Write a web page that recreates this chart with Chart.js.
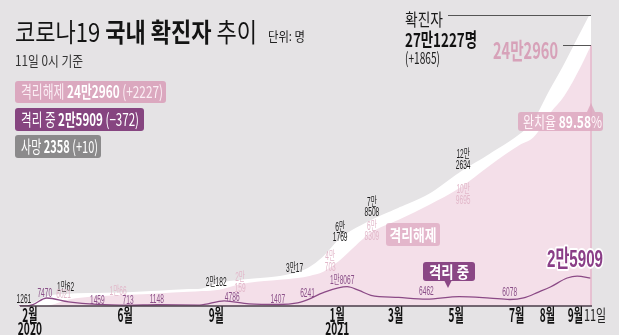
<!DOCTYPE html>
<html><head><meta charset="utf-8">
<script src="https://cdn.jsdelivr.net/npm/chart.js@4.4.1/dist/chart.umd.min.js"></script>
<style>html,body{margin:0;padding:0;background:#e5e3e5;}canvas{display:block;}</style>
</head><body>
<canvas id="c" width="619" height="335"></canvas>
<script>
// ---------- DATA ----------
const startDate = '2020-02-12';
const endDate = '2021-09-11';

const cumDates = ['2020-02-12','2020-02-20','2020-02-26','2020-03-11','2020-04-02','2020-05-01','2020-05-21','2020-06-01','2020-07-01','2020-08-01','2020-08-15','2020-09-01','2020-09-22','2020-10-01','2020-11-01','2020-11-19','2020-12-01','2020-12-15','2020-12-29','2021-01-01','2021-02-01','2021-03-01','2021-04-01','2021-05-01','2021-06-01','2021-07-01','2021-07-15','2021-08-01','2021-08-15','2021-09-01','2021-09-11'];
const confirmed = [28,104,1261,7755,10062,10774,11142,11503,12850,14336,15039,20182,22893,23812,26635,30017,34652,44364,58725,61769,78508,90029,103088,122634,140340,158549,170296,199787,222872,253445,271227];
const released  = [7,16,24,288,6021,9072,10066,10422,11684,13233,13901,15198,20159,21590,24357,26200,28065,31814,40703,42953,68309,80424,94353,109695,130981,150025,157248,179980,195683,223653,242960];

const isoDates = ['2020-02-12','2020-02-20','2020-02-26','2020-03-11','2020-04-02','2020-05-01','2020-06-01','2020-07-01','2020-08-12','2020-09-06','2020-10-01','2020-10-31','2020-11-19','2020-11-30','2020-12-15','2021-01-08','2021-01-20','2021-02-01','2021-03-01','2021-03-29','2021-05-01','2021-06-01','2021-06-21','2021-07-05','2021-07-20','2021-08-01','2021-08-18','2021-08-28','2021-09-11'];
const isolation = [21,88,1200,7470,3900,1459,713,1148,900,4786,1900,1407,3000,6241,12500,18067,14500,10000,8000,6462,8800,7400,6078,7500,13000,17700,26100,27900,25909];

const tickDates  = ['2020-02-26','2020-06-01','2020-09-01','2021-01-01','2021-03-01','2021-05-01','2021-07-01','2021-08-01'];
const tickLabels = [['2월','2020'],['6월'],['9월'],['1월','2021'],['3월'],['5월'],['7월'],['8월']];
const endLabel = ['9월','11일'];

const confirmedDelta = 1865;
const releasedDelta = 2227;
const isolationDelta = -372;
const deaths = 2358;
const deathsDelta = 10;
const recoveryRate = 89.58;

// ---------- helpers ----------
function day(s){const [y,m,d]=s.split('-').map(Number);return (Date.UTC(y,m-1,d)-Date.UTC(2020,1,12))/864e5;}
function ko(n){const a=Math.abs(n);const man=Math.floor(a/10000), r=a%10000;return man? man+'만'+(r? r:''):String(r);}
function koParts(n){const man=Math.floor(n/10000), r=n%10000;return [man+'만', String(r)];}
function signed(n){return (n>=0?'+':'−')+Math.abs(n);}
const KR = "'Noto Sans CJK KR','Liberation Sans',sans-serif";
const NUM = "'Liberation Sans','Noto Sans CJK KR',sans-serif";

function txt(ctx, parts, x, y, o){
  const size=o.size, fam=o.family||KR;
  const widths=parts.map(p=>{ctx.font=`${p[1]} ${size}px ${fam}`;return ctx.measureText(p[0]).width;});
  const nat=widths.reduce((a,b)=>a+b,0);
  const sx=o.width? o.width/nat : (o.sx||1);
  const total=nat*sx;
  let cx=o.align==='center'? x-total/2 : (o.align==='right'? x-total : x);
  ctx.textBaseline='middle'; ctx.textAlign='left';
  parts.forEach((p,i)=>{
    ctx.font=`${p[1]} ${size}px ${fam}`;
    ctx.save(); ctx.translate(cx,y); ctx.scale(sx,1);
    if(o.stroke){ctx.lineJoin='round';ctx.lineWidth=o.stroke;ctx.strokeStyle=o.strokeColor||'#fff';ctx.strokeText(p[0],0,0);}
    ctx.fillStyle=p[2]; ctx.fillText(p[0],0,0); ctx.restore();
    cx+=widths[i]*sx;
  });
  return total;
}
function rr(ctx,x,y,w,h,r,fill){ctx.beginPath();ctx.moveTo(x+r,y);ctx.lineTo(x+w-r,y);ctx.quadraticCurveTo(x+w,y,x+w,y+r);ctx.lineTo(x+w,y+h-r);ctx.quadraticCurveTo(x+w,y+h,x+w-r,y+h);ctx.lineTo(x+r,y+h);ctx.quadraticCurveTo(x,y+h,x,y+h-r);ctx.lineTo(x,y+r);ctx.quadraticCurveTo(x,y,x+r,y);ctx.closePath();ctx.fillStyle=fill;ctx.fill();}

const C_BLACK='#1b1b1b', C_PURPLE='#8a4f88', C_PINKTXT='#e2b8ca';
const seriesOf={c:[cumDates,confirmed,C_BLACK], r:[cumDates,released,C_PINKTXT], i:[isoDates,isolation,C_PURPLE]};
// point labels: series, date, pixel offset, two-line?
const pointLabels=[
  ['c','2020-02-26',-9,-5,false],
  ['i','2020-03-11',-2,-4,false],
  ['c','2020-04-02',-3,-8,false],
  ['r','2020-04-02',-5,-5,false],
  ['i','2020-05-01',0,-4,false],
  ['r','2020-05-21',1,-4,false],
  ['i','2020-06-01',0,-5,false],
  ['i','2020-07-01',-1,-5,false],
  ['c','2020-09-01',-3,-2,false],
  ['r','2020-09-22',0,-1,true],
  ['i','2020-09-06',8,-3,false],
  ['i','2020-10-31',-1,-5,false],
  ['c','2020-11-19',-3,-5,false],
  ['i','2020-11-30',-1,-6,false],
  ['r','2020-12-29',-7,0,true],
  ['i','2021-01-08',-5,-6,false],
  ['c','2021-01-01',0,-7,true],
  ['c','2021-02-01',1,-14,true],
  ['r','2021-02-01',1,-1,true],
  ['c','2021-05-01',4,-14,true],
  ['r','2021-05-01',4,7,true],
  ['i','2021-03-29',0,-7,false],
  ['i','2021-06-21',0,-7,false]
];

const overlay={
  id:'overlay',
  afterDatasetsDraw(chart){
    const {ctx, chartArea:a, scales:{x,y}}=chart;
    const xe=x.getPixelForValue(day(endDate));
    const yC=y.getPixelForValue(confirmed[confirmed.length-1]);
    const yR=y.getPixelForValue(released[released.length-1]);
    ctx.save();
    // right edge line
    ctx.strokeStyle='#e4b6ca';ctx.lineWidth=1.5;
    ctx.beginPath();ctx.moveTo(xe,yR);ctx.lineTo(xe,a.bottom);ctx.stroke();
    // baseline
    ctx.strokeStyle='#4a3c49';ctx.lineWidth=1.5;
    ctx.beginPath();ctx.moveTo(a.left+1,a.bottom);ctx.lineTo(xe+1,a.bottom);ctx.stroke();
    // leader lines
    ctx.strokeStyle='#555';ctx.lineWidth=1;
    ctx.beginPath();ctx.moveTo(448,Math.round(yC)+0.5);ctx.lineTo(xe,Math.round(yC)+0.5);ctx.stroke();
    ctx.beginPath();ctx.moveTo(563,Math.round(yR)+0.5);ctx.lineTo(xe,Math.round(yR)+0.5);ctx.stroke();

    // point labels
    pointLabels.forEach(([s,d,dx,dy,two])=>{
      const [ds,vals,col]=seriesOf[s];
      const v=vals[ds.indexOf(d)];
      const px=x.getPixelForValue(day(d))+dx, py=y.getPixelForValue(v)+dy;
      if(two){
        const [l1,l2]=koParts(v);
        txt(ctx,[[l1,'400',col]],px,py-5.5,{size:12,sx:0.55,align:'center',family:NUM});
        txt(ctx,[[l2,'400',col]],px,py+5,{size:12,sx:0.55,align:'center',family:NUM});
      } else {
        txt(ctx,[[ko(v),'400',col]],px,py,{size:12,sx:0.55,align:'center',family:NUM});
      }
    });

    // in-chart boxes
    rr(ctx,386,223,54,23,3,'rgba(221,168,192,0.75)');
    txt(ctx,[['격리해제','700','#ffffff']],413,234.5,{size:16,width:47,align:'center'});
    rr(ctx,423,262,52,19,3,'#8a4785');
    ctx.fillStyle='#8a4785';ctx.beginPath();ctx.moveTo(444,280);ctx.lineTo(452,280);ctx.lineTo(448,288);ctx.closePath();ctx.fill();
    txt(ctx,[['격리 중','700','#ffffff']],449,271.5,{size:16,width:40,align:'center'});
    // big isolation value
    txt(ctx,[[ko(isolation[isolation.length-1]),'700','#8a3e87']],575,260,{size:24,width:56,align:'center',family:NUM,stroke:4});

    // recovery rate box
    ctx.fillStyle='rgba(221,168,192,0.85)';
    ctx.beginPath();ctx.moveTo(xe-4,112);ctx.lineTo(xe,103);ctx.lineTo(xe+4,112);ctx.closePath();ctx.fill();
    rr(ctx,518,112,85,19,3,'rgba(221,168,192,0.85)');
    txt(ctx,[['완치율 ','400','#fff5f9'],[recoveryRate.toFixed(2),'700','#ffffff'],['%','400','#fff5f9']],523,121.5,{size:16,width:79});

    // top-right confirmed
    txt(ctx,[['확진자','400','#1b1b1b']],405,20,{size:17,width:38});
    txt(ctx,[[ko(confirmed[confirmed.length-1])+'명','700','#111']],405,40,{size:19,width:72});
    txt(ctx,[['('+signed(confirmedDelta)+')','400','#222']],405,58,{size:16,width:35});
    txt(ctx,[[ko(released[released.length-1]),'700','#d7a2b9']],493,50,{size:23,width:65});

    // title
    txt(ctx,[['코로나19 ','400','#141414'],['국내 확진자','700','#141414'],[' 추이','400','#141414']],15,32.5,{size:26,width:242});
    txt(ctx,[['단위: 명','400','#222']],268,36,{size:13,width:37});
    txt(ctx,[['11일 0시 기준','400','#333']],15,61,{size:14,width:68});

    // legend boxes
    rr(ctx,15,81,151,22,3,'#dba8bf');
    txt(ctx,[['격리해제 ','400','#fbeef4'],[ko(released[released.length-1]),'700','#ffffff'],[' ('+signed(releasedDelta)+')','400','#fbeef4']],21,92,{size:17,width:142});
    rr(ctx,15,108,129,23,3,'#864580');
    txt(ctx,[['격리 중 ','400','#ffffff'],[ko(isolation[isolation.length-1]),'700','#ffffff'],[' ('+signed(isolationDelta)+')','400','#ffffff']],21,119.5,{size:17,width:118});
    rr(ctx,15,135,86,23,3,'#8b8a8b');
    txt(ctx,[['사망 ','400','#ffffff'],[String(deaths),'700','#ffffff'],[' ('+signed(deathsDelta)+')','400','#ffffff']],21,146.5,{size:17,width:77});

    // x labels
    tickDates.forEach((d,i)=>{
      const px=x.getPixelForValue(day(d))-3;
      const lab=tickLabels[i];
      txt(ctx,[[lab[0],'700','#111']],px,315,{size:18,sx:0.56,align:'center'});
      if(lab[1]) txt(ctx,[[lab[1],'700','#111']],px,328.5,{size:17,sx:0.6,align:'center'});
    });
    txt(ctx,[[endLabel[0],'700','#111']],xe-8,315,{size:18,sx:0.56,align:'right'});
    txt(ctx,[[endLabel[1],'400','#222']],xe-7,315,{size:16,sx:0.68});
    ctx.restore();
  }
};

const pts=(ds,vs)=>ds.map((d,i)=>({x:day(d),y:vs[i]}));
new Chart(document.getElementById('c'),{
  type:'line',
  data:{datasets:[
    {label:'격리 중',data:pts(isoDates,isolation),borderColor:'#8b4a86',borderWidth:1.3,pointRadius:0,fill:false,cubicInterpolationMode:'monotone',order:0},
    {label:'격리해제',data:pts(cumDates,released),borderColor:'rgba(0,0,0,0)',borderWidth:0,pointRadius:0,fill:'origin',backgroundColor:'#f4dfe9',cubicInterpolationMode:'monotone',order:1},
    {label:'확진자',data:pts(cumDates,confirmed),borderColor:'#ffffff',borderWidth:3,pointRadius:0,fill:'origin',backgroundColor:'#ffffff',cubicInterpolationMode:'monotone',order:2}
  ]},
  options:{
    responsive:false,animation:false,
    layout:{padding:{left:19,right:28,top:15,bottom:29}},
    scales:{
      x:{type:'linear',min:0,max:day(endDate),display:false},
      y:{min:0,max:confirmed[confirmed.length-1],display:false}
    },
    plugins:{legend:{display:false},tooltip:{enabled:false}}
  },
  plugins:[overlay]
});
</script>
</body></html>
